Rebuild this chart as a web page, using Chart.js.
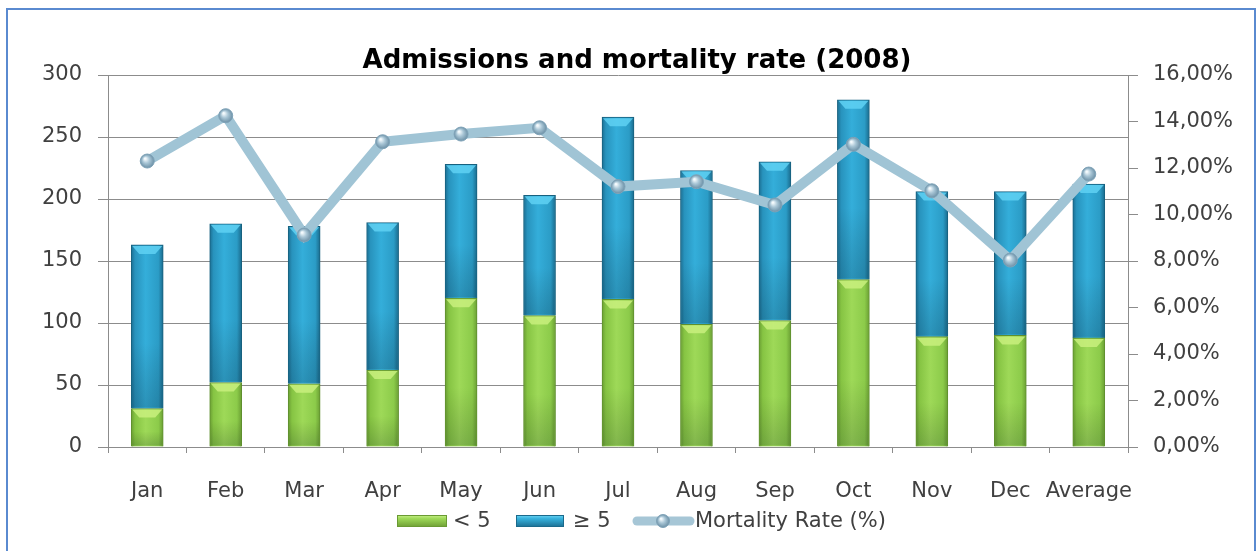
<!DOCTYPE html>
<html>
<head>
<meta charset="utf-8">
<script src="https://cdn.jsdelivr.net/npm/chart.js@4/dist/chart.umd.min.js"></script>
<style>
  html, body { margin: 0; padding: 0; background: #ffffff; }
  #wrap { width: 1258px; height: 551px; position: relative; }
</style>
</head>
<body>
<div id="wrap"><canvas id="c" width="1258" height="551"></canvas></div>
<script>
const categories = ['Jan','Feb','Mar','Apr','May','Jun','Jul','Aug','Sep','Oct','Nov','Dec','Average'];
const under5 = [31, 52, 51, 62, 120, 106, 119, 99, 102, 135, 89, 90, 88];
const over5 = [132, 128, 127, 119, 108, 97, 147, 124, 128, 145, 117, 116, 124];
const mortality = [12.30, 14.25, 9.12, 13.13, 13.46, 13.73, 11.20, 11.41, 10.41, 13.02, 11.02, 8.04, 11.74];
const seriesNames = ['< 5', '\u2265 5', 'Mortality Rate (%)'];
const chartTitle = 'Admissions and mortality rate (2008)';

const FONT = 'DejaVu Sans';
const TICK_COLOR = '#404040';
const GRID_COLOR = '#8C8C8C';
const BAR_W = 32;

const greenStops = [[0,'#6A9E33'],[0.12,'#86C443'],[0.45,'#9ED958'],[0.85,'#8CCB4A'],[1,'#6A9E33']];
const blueStops = [[0,'#1B6E92'],[0.12,'#2893BD'],[0.45,'#34AEDA'],[0.85,'#2B9CC6'],[1,'#1A6A8C']];
const chevronColors = ['#C9F07E', '#5FD1F3'];

function barGradient(c, stops, fallback) {
  const chart = c.chart;
  if (!chart.chartArea || !chart.scales.x) return fallback;
  const x = chart.scales.x.getPixelForValue(c.dataIndex);
  const g = chart.ctx.createLinearGradient(x - BAR_W / 2, 0, x + BAR_W / 2, 0);
  stops.forEach(s => g.addColorStop(s[0], s[1]));
  return g;
}

function sphereGradient(ctx, x, y, r) {
  const g = ctx.createRadialGradient(x - r * 0.3, y - r * 0.35, r * 0.1, x, y, r);
  g.addColorStop(0, '#F4FAFD');
  g.addColorStop(0.45, '#A9C6D6');
  g.addColorStop(1, '#6C90A6');
  return g;
}

function pointFill(c) {
  const chart = c.chart;
  if (!chart.chartArea || !chart.scales.y1) return '#A9C6D6';
  const x = chart.scales.x.getPixelForValue(c.dataIndex);
  const y = chart.scales.y1.getPixelForValue(mortality[c.dataIndex]);
  return sphereGradient(chart.ctx, x, y, 7);
}

const decorPlugin = {
  id: 'decor',
  beforeDraw(chart) {
    const ctx = chart.ctx;
    ctx.save();
    ctx.fillStyle = '#ffffff';
    ctx.fillRect(0, 0, chart.width, chart.height);
    ctx.strokeStyle = '#5A8AD0';
    ctx.lineWidth = 2;
    ctx.strokeRect(7, 9, 1248, 560);
    ctx.restore();
  },
  afterDatasetDraw(chart, args) {
    const meta = args.meta;
    if (meta.type !== 'bar') return;
    const ctx = chart.ctx;
    const col = chevronColors[meta.index === 1 ? 0 : 1] ;
    const which = meta.controller.getDataset().label === seriesNames[0] ? 0 : 1;
    ctx.save();
    meta.data.forEach(el => {
      const p = el.getProps(['x', 'y', 'base', 'width'], true);
      const l = p.x - p.width / 2 + 1, r = p.x + p.width / 2 - 1;
      const top = p.y + 1;
      const h = Math.min(8, Math.abs(p.base - p.y) - 2);
      // bottom shading
      const sh = ctx.createLinearGradient(0, p.y, 0, p.base);
      sh.addColorStop(0, 'rgba(0,0,0,0)');
      sh.addColorStop(0.6, 'rgba(0,0,0,0)');
      sh.addColorStop(1, 'rgba(0,20,30,0.18)');
      ctx.fillStyle = sh;
      ctx.fillRect(l, p.y + 1, r - l, p.base - p.y - 2);
      // light chevron at top
      ctx.beginPath();
      ctx.moveTo(l, top);
      ctx.lineTo(r, top);
      ctx.lineTo(r - 7, top + h);
      ctx.lineTo(l + 7, top + h);
      ctx.closePath();
      ctx.fillStyle = chevronColors[which];
      ctx.globalAlpha = 0.85;
      ctx.fill();
      ctx.globalAlpha = 1;
    });
    ctx.restore();
  },
  afterDraw(chart) {
    const ctx = chart.ctx;
    ctx.save();
    // title
    ctx.fillStyle = '#000000';
    ctx.font = 'bold 26px "' + FONT + '"';
    ctx.textAlign = 'center';
    ctx.textBaseline = 'alphabetic';
    ctx.fillText(chartTitle, 637, 68);

    // legend
    const ly = 521;
    ctx.font = '21px "' + FONT + '"';
    ctx.textAlign = 'left';
    ctx.textBaseline = 'middle';
    function swatch(x0, w, stops, border) {
      const g = ctx.createLinearGradient(0, ly - 6, 0, ly + 6);
      stops.forEach(s => g.addColorStop(s[0], s[1]));
      ctx.fillStyle = g;
      ctx.fillRect(x0, ly - 6, w, 12);
      ctx.strokeStyle = border;
      ctx.lineWidth = 1;
      ctx.strokeRect(x0 + 0.5, ly - 5.5, w - 1, 11);
    }
    swatch(397, 50, [[0,'#C8F08A'],[0.3,'#9ED958'],[1,'#6E9E35']], '#6A9A33');
    ctx.fillStyle = TICK_COLOR;
    ctx.fillText(seriesNames[0], 453, ly + 1);
    swatch(516, 48, [[0,'#6FD6F4'],[0.3,'#37B2DD'],[1,'#1B6E92']], '#1B6A8C');
    ctx.fillStyle = TICK_COLOR;
    ctx.fillText(seriesNames[1], 573, ly + 1);
    ctx.strokeStyle = '#A6C6D6';
    ctx.lineWidth = 9;
    ctx.lineCap = 'round';
    ctx.beginPath();
    ctx.moveTo(637, ly);
    ctx.lineTo(690, ly);
    ctx.stroke();
    ctx.beginPath();
    ctx.arc(663, ly, 6.5, 0, Math.PI * 2);
    ctx.fillStyle = sphereGradient(ctx, 663, ly, 6.5);
    ctx.fill();
    ctx.lineWidth = 1;
    ctx.strokeStyle = '#7FA3B8';
    ctx.stroke();
    ctx.fillStyle = TICK_COLOR;
    ctx.fillText(seriesNames[2], 695, ly + 1);
    ctx.restore();
  }
};

new Chart(document.getElementById('c'), {
  type: 'bar',
  data: {
    labels: categories,
    datasets: [
      {
        type: 'line',
        label: seriesNames[2],
        data: mortality,
        yAxisID: 'y1',
        order: 0,
        borderColor: '#A0C4D5',
        borderWidth: 10,
        borderJoinStyle: 'miter',
        tension: 0,
        pointRadius: 7,
        pointHoverRadius: 7,
        pointBackgroundColor: pointFill,
        pointBorderColor: '#7FA3B8',
        pointBorderWidth: 1
      },
      {
        label: seriesNames[0],
        data: under5,
        yAxisID: 'y',
        order: 1,
        barThickness: BAR_W,
        backgroundColor: c => barGradient(c, greenStops, '#92D050'),
        borderColor: '#5F8F2E',
        borderWidth: 1
      },
      {
        label: seriesNames[1],
        data: over5,
        yAxisID: 'y',
        order: 1,
        barThickness: BAR_W,
        backgroundColor: c => barGradient(c, blueStops, '#2E9FCB'),
        borderColor: '#17617F',
        borderWidth: 1
      }
    ]
  },
  options: {
    responsive: false,
    animation: false,
    devicePixelRatio: 1,
    layout: { padding: { top: 75, left: 0, right: 0, bottom: 0 } },
    plugins: {
      legend: { display: false },
      title: { display: false },
      tooltip: { enabled: false }
    },
    scales: {
      x: {
        stacked: true,
        offset: true,
        afterFit: s => { s.height = 104; },
        grid: { offset: true, drawOnChartArea: false, drawTicks: true, tickLength: 6, color: GRID_COLOR },
        border: { display: true, color: GRID_COLOR, width: 1 },
        ticks: { color: TICK_COLOR, font: { family: FONT, size: 21 }, padding: 26, maxRotation: 0, autoSkip: false }
      },
      y: {
        stacked: true,
        position: 'left',
        min: 0,
        max: 300,
        afterFit: s => { s.width = 108; },
        grid: { color: GRID_COLOR, tickLength: 10, drawTicks: true },
        border: { display: true, color: GRID_COLOR, width: 1 },
        ticks: { stepSize: 50, color: TICK_COLOR, font: { family: FONT, size: 21 }, padding: 16 }
      },
      y1: {
        position: 'right',
        min: 0,
        max: 16,
        afterFit: s => { s.width = 130; },
        grid: { drawOnChartArea: false, color: GRID_COLOR, tickLength: 10, drawTicks: true },
        border: { display: true, color: GRID_COLOR, width: 1 },
        ticks: {
          stepSize: 2,
          color: TICK_COLOR,
          font: { family: FONT, size: 21 },
          padding: 15,
          callback: v => v.toFixed(2).replace('.', ',') + '%'
        }
      }
    }
  },
  plugins: [decorPlugin]
});
</script>
</body>
</html>
